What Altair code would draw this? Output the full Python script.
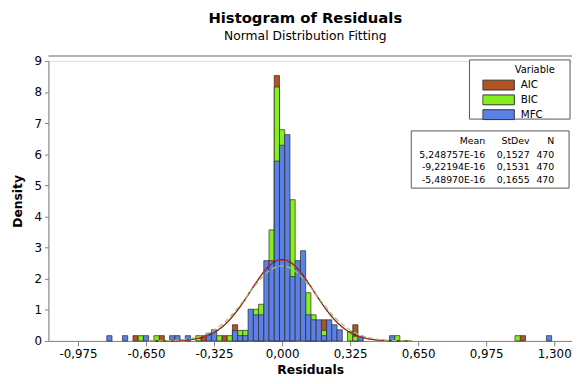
import altair as alt
import pandas as pd

# ---------------- data ----------------
series = ["AIC", "BIC", "MFC"]
colors = ["#B3541E", "#84EE1E", "#5C80E6"]
bin_width = 0.025

aic_centers = [-0.7, -0.575, -0.375, -0.275, -0.225, -0.025, 0.2, 0.35, 1.15]
aic_density = [0.17, 0.17, 0.17, 0.17, 0.52, 8.53, 0.68, 0.52, 0.17]

bic_centers = [-0.675, -0.6, -0.4, -0.3, -0.25, -0.2, -0.175, -0.125, -0.1, -0.05,
               -0.025, 0.0, 0.05, 0.125, 0.15, 0.2, 0.325, 0.35, 0.55, 1.125]
bic_density = [0.17, 0.17, 0.17, 0.17, 0.17, 0.34, 0.34, 1.02, 1.18, 3.57,
               8.16, 6.79, 4.54, 1.55, 0.84, 0.34, 0.30, 0.15, 0.17, 0.17]

mfc_centers = [-0.825, -0.75, -0.65, -0.525, -0.5, -0.45, -0.35, -0.325, -0.225, -0.2,
               -0.175, -0.15, -0.125, -0.1, -0.075, -0.05, -0.025, 0.0, 0.025, 0.05,
               0.075, 0.1, 0.125, 0.15, 0.175, 0.2, 0.225, 0.25, 0.275, 0.375,
               0.525, 1.275]
mfc_density = [0.17, 0.17, 0.17, 0.17, 0.17, 0.17, 0.25, 0.36, 0.33, 0.17,
               0.17, 1.02, 0.84, 0.84, 2.58, 2.58, 5.78, 6.29, 6.63, 2.07,
               2.58, 2.90, 0.84, 0.68, 0.68, 0.17, 0.68, 0.52, 0.36, 0.15,
               0.17, 0.17]

fit_means = [5.248757e-16, -9.22194e-16, -5.48970e-16]
fit_sds = [0.1527, 0.1531, 0.1655]
fit_n = [470, 470, 470]
mean_labels = ["5,248757E-16", "-9,22194E-16", "-5,48970E-16"]
sd_labels = ["0,1527", "0,1531", "0,1655"]
n_labels = ["470", "470", "470"]
curve_colors = ["#3a2a20", "#E8231E", "#8CCB78"]
curve_dashes = [[1, 0], [6, 3], [5, 3]]
legend_line_colors = ["#6A2A08", "#E8231E", "#8CCB78"]
legend_line_dashes = [[1, 0], [6, 3], [5, 3]]

x_ticks = [-0.975, -0.65, -0.325, 0.0, 0.325, 0.65, 0.975, 1.3]
y_ticks = [0, 1, 2, 3, 4, 5, 6, 7, 8, 9]

FONT = "DejaVu Sans"

rows = []
for s, cs, ds in zip(series, [aic_centers, bic_centers, mfc_centers],
                     [aic_density, bic_density, mfc_density]):
    for c, d in zip(cs, ds):
        rows.append({"series": s, "center": c, "density": d})
df = pd.DataFrame(rows)

xscale = alt.Scale(domain=[-1.1163, 1.3848], nice=False, zero=False)
yscale = alt.Scale(domain=[0, 9], nice=False, zero=True)

label_expr = "replace(replace(format(datum.value, '.3f'), '.', ','), '\u2212', '-')"

x_axis = alt.Axis(
    values=x_ticks, labelExpr=label_expr, title="Residuals", grid=False,
    labelFont=FONT, labelFontSize=12, titleFont=FONT, titleFontSize=12.5,
    titleFontWeight="bold", tickSize=5, labelPadding=3, titlePadding=4,
    domainColor="#808080", tickColor="#808080", labelFlush=False,
    labelOverlap=False, labelColor="black", titleColor="black")
y_axis = alt.Axis(
    values=y_ticks, format="d", title="Density", grid=False,
    labelFont=FONT, labelFontSize=12, titleFont=FONT, titleFontSize=12.5,
    titleFontWeight="bold", tickSize=4, labelPadding=3, titlePadding=10,
    domainColor="#808080", tickColor="#808080", labelColor="black",
    titleColor="black", labelOverlap=False, labelFlush=False)

bars = alt.Chart(df).transform_calculate(
    x0=f"datum.center - {bin_width / 2}",
    x1=f"datum.center + {bin_width / 2}",
).mark_rect(stroke="#2a2a2a", strokeWidth=0.7).encode(
    x=alt.X("x0:Q", scale=xscale, axis=x_axis),
    x2="x1:Q",
    y=alt.Y("density:Q", scale=yscale, axis=y_axis),
    y2=alt.datum(0),
    color=alt.Color("series:N", scale=alt.Scale(domain=series, range=colors),
                    legend=alt.Legend(
                        title=None, orient="none", legendX=440, legendY=17,
                        symbolType="M-1,-0.3125H1V0.3125H-1Z", symbolSize=1024,
                        clipHeight=15, rowPadding=0, labelOffset=6,
                        labelFont=FONT, labelFontSize=10.5, labelColor="black",
                        symbolStrokeColor="#333333", symbolStrokeWidth=1,
                        padding=0, symbolOpacity=1)),
)

curves = []
for m, sd, col, dash in zip(fit_means, fit_sds, curve_colors, curve_dashes):
    curves.append(
        alt.Chart(alt.sequence(-0.63, 0.625, 0.005, as_="x"))
        .transform_calculate(d=f"densityNormal(datum.x, {m}, {sd})")
        .mark_line(color=col, strokeDash=dash, strokeWidth=1.2)
        .encode(x=alt.X("x:Q", scale=xscale, axis=x_axis),
                y=alt.Y("d:Q", scale=yscale, axis=y_axis))
    )

one = pd.DataFrame({"k": [0]})

# top frame line of the graph region
top_line = alt.Chart(one).mark_rule(color="#9a9a9a", strokeWidth=1.5).encode(
    x=alt.value(0), x2=alt.value(531), y=alt.value(-5))

# legend frame and "Variable" header
legend_box = alt.Chart(one).mark_rect(fill="white", stroke="#555555", strokeWidth=1).encode(
    x=alt.value(427), x2=alt.value(529), y=alt.value(-1), y2=alt.value(59))
legend_title = alt.Chart(pd.DataFrame({"t": ["Variable"]})).mark_text(
    align="left", baseline="middle", font=FONT, fontSize=10, color="black").encode(
    x=alt.value(473), y=alt.value(9), text="t:N")

legend_lines = []
for i, (lc, ld) in enumerate(zip(legend_line_colors, legend_line_dashes)):
    legend_lines.append(alt.Chart(one).mark_rule(color=lc, strokeDash=ld, strokeWidth=1.2).encode(
        x=alt.value(443), x2=alt.value(469), y=alt.value(24.5 + 15 * i)))

# stats table
table_box = alt.Chart(one).mark_rect(fill="white", stroke="#555555", strokeWidth=1).encode(
    x=alt.value(368), x2=alt.value(528), y=alt.value(71), y2=alt.value(129))
table_layers = [table_box]
col_x = [443, 488, 513]
headers = ["Mean", "StDev", "N"]
row_y = [81, 95, 108, 121]
for cx, h in zip(col_x, headers):
    table_layers.append(alt.Chart(pd.DataFrame({"t": [h]})).mark_text(
        align="right", baseline="middle", font=FONT, fontSize=9.5, color="black").encode(
        x=alt.value(cx), y=alt.value(row_y[0]), text="t:N"))
for i in range(3):
    for cx, lab in zip(col_x, [mean_labels[i], sd_labels[i], n_labels[i]]):
        table_layers.append(alt.Chart(pd.DataFrame({"t": [lab]})).mark_text(
            align="right", baseline="middle", font=FONT, fontSize=9.5, color="black").encode(
            x=alt.value(cx), y=alt.value(row_y[i + 1]), text="t:N"))

chart = alt.layer(
    bars, top_line, legend_box, legend_title, *table_layers, *curves, *legend_lines
).properties(
    width=531, height=284,
    padding={"left": 41, "top": 51, "right": 0, "bottom": 41},
    autosize=alt.AutoSizeParams(type="none"),
    title=alt.TitleParams(
        text="Histogram of Residuals", subtitle="Normal Distribution Fitting",
        font=FONT, fontSize=15, fontWeight="bold", color="black",
        subtitleFont=FONT, subtitleFontSize=12.5, subtitleColor="black",
        subtitlePadding=4, anchor="middle", offset=13, dx=-5),
).configure_view(stroke="transparent", strokeWidth=0).configure(background="white")

chart.save("out.html", embed_options={"renderer": "svg", "actions": False})
